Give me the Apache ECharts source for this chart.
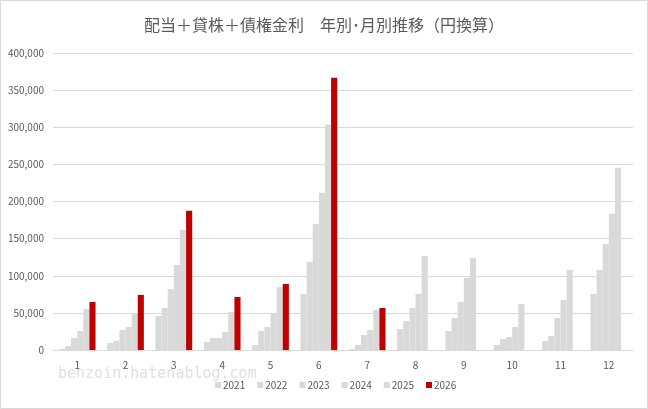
<!DOCTYPE html>
<html>
<head>
<meta charset="utf-8">
<title>配当＋貸株＋債権金利 年別・月別推移</title>
<script src="https://cdn.jsdelivr.net/npm/echarts@6/dist/echarts.min.js"></script>
<style>
  html, body { margin: 0; padding: 0; background: #fff; }
  #chart { width: 648px; height: 409px; }
</style>
</head>
<body>
<div id="chart"></div>
<script>
// months on the x axis
const months = ['1', '2', '3', '4', '5', '6', '7', '8', '9', '10', '11', '12'];
const years = ['2021', '2022', '2023', '2024', '2025', '2026'];

// values (yen)
const y2021 = [1300, 9400, 45800, 10800, 6700, 75500, 1300, 28300, 25600, 6700, 12100, 75500];
const y2022 = [5400, 12100, 56600, 16200, 25600, 118700, 6700, 39100, 43100, 14800, 18900, 107900];
const y2023 = [16200, 27000, 82200, 16200, 31000, 169900, 20200, 56600, 64700, 17500, 43100, 142900];
const y2024 = [25600, 31000, 114600, 24300, 49400, 211700, 27000, 75500, 97100, 31000, 67400, 183400];
const y2025 = [55300, 49400, 161800, 51200, 84900, 303400, 53900, 126700, 124000, 62000, 107900, 245400];
const y2026 = [64700, 74200, 187400, 71500, 89000, 366700, 56600, null, null, null, null, null];

const yTicks = [0, 50000, 100000, 150000, 200000, 250000, 300000, 350000, 400000];

const seriesData = [y2021, y2022, y2023, y2024, y2025, y2026];
const colors = ['#d9d9d9', '#d9d9d9', '#d9d9d9', '#d9d9d9', '#d9d9d9', '#c00000'];

const myChart = echarts.init(document.getElementById('chart'));

const option = {
    animation: false,
    backgroundColor: '#fff',
    textStyle: { fontFamily: 'Noto Sans CJK JP, sans-serif' },
    title: {
        text: '配当＋貸株＋債権金利　年別･月別推移（円換算）',
        left: 'center',
        top: 12,
        textStyle: {
            color: '#595959',
            fontSize: 16,
            fontWeight: 'normal',
            fontFamily: 'Noto Sans CJK JP'
        }
    },
    legend: {
        bottom: 14,
        left: 210,
        icon: 'rect',
        itemWidth: 6,
        itemHeight: 6,
        itemGap: 12,
        textStyle: { color: '#595959', fontSize: 10, padding: [0, 0, 0, -3] },
        data: years
    },
    grid: {
        left: 53,
        right: 15,
        top: 53,
        bottom: 59,
        containLabel: false
    },
    xAxis: {
        type: 'category',
        data: months,
        axisLine: { lineStyle: { color: '#d9d9d9' } },
        axisTick: { show: false },
        axisLabel: { color: '#595959', fontSize: 10, margin: 10 }
    },
    yAxis: {
        type: 'value',
        min: yTicks[0],
        max: yTicks[yTicks.length - 1],
        interval: 50000,
        axisLine: { show: false },
        axisTick: { show: false },
        splitLine: { lineStyle: { color: '#d9d9d9' } },
        axisLabel: {
            color: '#595959',
            fontSize: 10,
            margin: 9,
            formatter: v => v.toLocaleString('en-US')
        }
    },
    graphic: [
        {
            type: 'rect',
            shape: { x: 0.5, y: 0.5, width: 647, height: 408 },
            style: { fill: 'none', stroke: '#d9d9d9', lineWidth: 1 },
            silent: true
        },
        {
            type: 'text',
            left: 58,
            top: 367,
            silent: true,
            style: {
                text: 'benzoin.hatenablog.com',
                fill: '#e0e0e0',
                font: '15px "DejaVu Sans Mono", monospace'
            }
        }
    ],
    series: years.map((name, i) => ({
        name: name,
        type: 'bar',
        data: seriesData[i],
        barGap: 0,
        barCategoryGap: '24%',
        itemStyle: { color: colors[i] }
    }))
};

myChart.setOption(option);
</script>
</body>
</html>
